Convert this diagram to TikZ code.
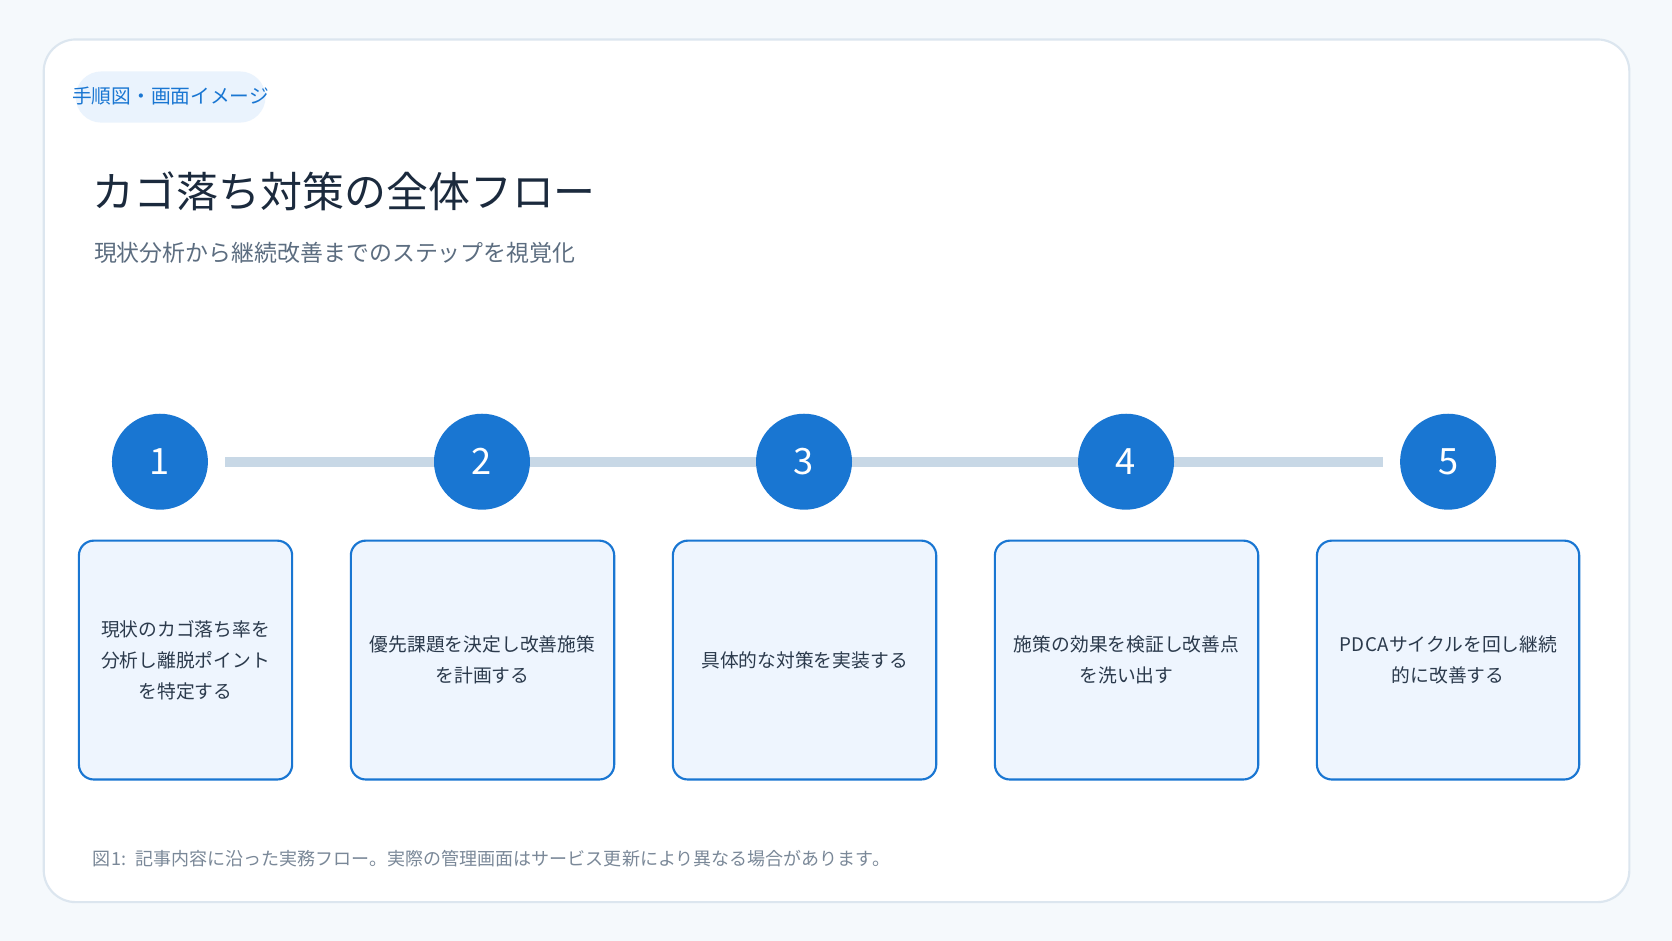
\documentclass[tikz,border=0pt]{standalone}
\usepackage{fontspec}
\setmainfont{Noto Sans CJK JP}
\definecolor{pagebg}{HTML}{F5F9FC}
\definecolor{frameline}{HTML}{DCE6EF}
\definecolor{tagfill}{HTML}{EAF3FD}
\definecolor{mainblue}{HTML}{1976D2}
\definecolor{trackc}{HTML}{C8D8E6}
\definecolor{cardfill}{HTML}{EEF5FE}
\definecolor{titlec}{HTML}{1B2A3D}
\definecolor{subc}{HTML}{5C6D80}
\definecolor{bodyc}{HTML}{2B3A4C}
\definecolor{footc}{HTML}{7A8898}
\pgfdeclarelayer{back}
\pgfdeclarelayer{track}
\pgfsetlayers{back,track,main}
\tikzset{
  stepcircle/.style={circle, fill=mainblue, minimum size=90pt, inner sep=0pt,
    text=white, font=\fontsize{34}{36}\selectfont},
  stepcard/.style={draw=mainblue, line width=2pt, fill=cardfill, rounded corners=14pt,
    minimum height=224pt, inner sep=0pt, align=center, text=bodyc,
    font=\fontsize{17.6}{29}\selectfont},
  tracklink/.style={draw=trackc, line width=9pt},
}
\begin{document}
\begin{tikzpicture}[x=1pt,y=-1pt]
\begin{pgfonlayer}{back}
\fill[pagebg] (0,0) rectangle (1568,882);
\draw[frameline, line width=2pt, fill=white, rounded corners=30pt] (41,37) rectangle (1528,846);
\fill[tagfill, rounded corners=24pt] (71,67) rectangle (249,115);
\end{pgfonlayer}
\useasboundingbox (0,0) rectangle (1568,882);

\node[text=mainblue, inner sep=0pt, font=\fontsize{18.5}{20}\selectfont] (tag) at (160,90) {手順図・画面イメージ};
\node[anchor=west, text=titlec, inner sep=0pt, font=\fontsize{39.3}{44}\selectfont] (title) at (87,179) {カゴ落ち対策の全体フロー};
\node[anchor=west, text=subc, inner sep=0pt, font=\fontsize{21.5}{24}\selectfont] (subtitle) at (88,237) {現状分析から継続改善までのステップを視覚化};

\node[stepcircle] (c1) at (150,433) {1};
\node[stepcircle] (c2) at (452,433) {2};
\node[stepcircle] (c3) at (754,433) {3};
\node[stepcircle] (c4) at (1056,433) {4};
\node[stepcircle] (c5) at (1358,433) {5};

\begin{pgfonlayer}{track}
\draw[tracklink, shorten <=16pt, shorten >=16pt] (c1.east) -- (c5.west);
\end{pgfonlayer}

\node[stepcard, minimum width=200pt] (s1) at (174,619) {現状のカゴ落ち率を\\分析し離脱ポイント\\を特定する};
\node[stepcard, minimum width=247pt] (s2) at (452.5,619) {優先課題を決定し改善施策\\を計画する};
\node[stepcard, minimum width=247pt] (s3) at (754.5,619) {具体的な対策を実装する};
\node[stepcard, minimum width=247pt] (s4) at (1056.5,619) {施策の効果を検証し改善点\\を洗い出す};
\node[stepcard, minimum width=246pt] (s5) at (1358,619) {P\kern0.6pt D\kern0.6pt C\kern0.6pt Aサイクルを回し継続\\的に改善する};

\node[anchor=west, text=footc, inner sep=0pt, font=\fontsize{16.9}{19}\selectfont] (foot) at (87,805) {図1:\hspace{9pt}記事内容に沿った実務フロー。実際の管理画面はサービス更新により異なる場合があります。};
\end{tikzpicture}
\end{document}
